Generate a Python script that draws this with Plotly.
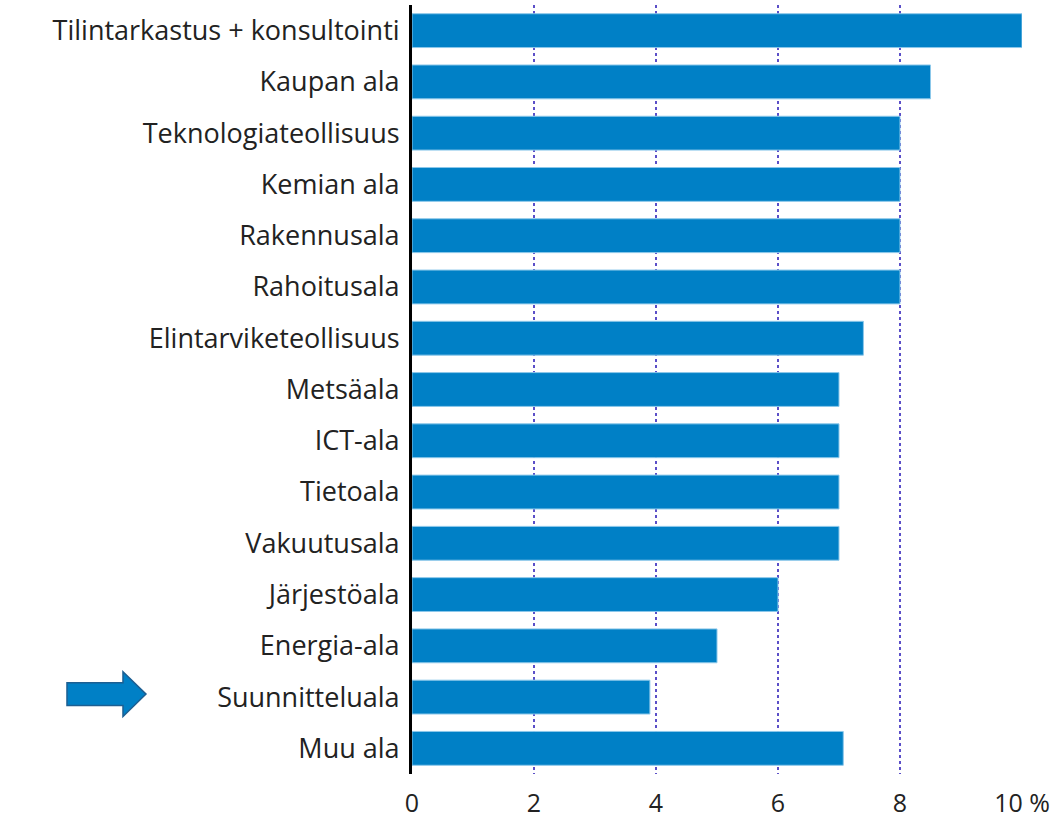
import plotly.graph_objects as go

categories = ["Tilintarkastus + konsultointi", "Kaupan ala", "Teknologiateollisuus",
              "Kemian ala", "Rakennusala", "Rahoitusala", "Elintarviketeollisuus",
              "Metsäala", "ICT-ala", "Tietoala", "Vakuutusala", "Järjestöala",
              "Energia-ala", "Suunnitteluala", "Muu ala"]
values = [10.0, 8.5, 8.0, 8.0, 8.0, 8.0, 7.4, 7.0, 7.0, 7.0, 7.0, 6.0, 5.0, 3.9, 7.07]
tick_vals = [0, 2, 4, 6, 8, 10]
tick_text = ["0", "2", "4", "6", "8", "10 %"]

W, H = 1059, 824
ml, mr, mt, mb = 412, 37, 5, 44
pw, ph = W - ml - mr, H - mt - mb

def px(x):
    return (x - ml) / pw

def py(y):
    return (H - mb - y) / ph

fig = go.Figure(go.Bar(
    x=values, y=categories, orientation="h",
    marker=dict(color="#0080C6", line=dict(color="#8cc8ea", width=1)),
    width=0.66,
))

# arrow pointing at Suunnitteluala
pts = [(67, 688), (123, 688), (123, 677), (146, 699.5), (123, 722), (123, 711), (67, 711)]
path = "M " + " L ".join(f"{px(a):.4f},{py(b):.4f}" for a, b in pts) + " Z"
fig.add_shape(type="path", path=path, xref="paper", yref="paper",
              fillcolor="#0080C6", line=dict(color="#1d5f92", width=1.5))

fig.update_layout(
    width=W, height=H,
    margin=dict(l=ml, r=mr, t=mt, b=mb),
    plot_bgcolor="white", paper_bgcolor="white",
    font=dict(family="Open Sans", size=27, color="#222222"),
    showlegend=False,
    xaxis=dict(range=[0, 10], tickvals=tick_vals, ticktext=tick_text,
               showgrid=True, gridcolor="#5b4fc8", griddash="dot", gridwidth=1.5,
               zeroline=False, showline=False, ticks="", ticklabelstandoff=12,
               tickfont=dict(size=25)),
    yaxis=dict(autorange=False, range=[14.5, -0.5], categoryorder="array",
               categoryarray=categories, showline=True, linecolor="black",
               linewidth=3, ticks="", ticklabelstandoff=4, showgrid=False,
               tickfont=dict(size=27)),
)

fig.write_html("out.html", config={"displayModeBar": False},
               post_script="document.body.style.margin='0px';document.body.style.overflow='hidden';")
